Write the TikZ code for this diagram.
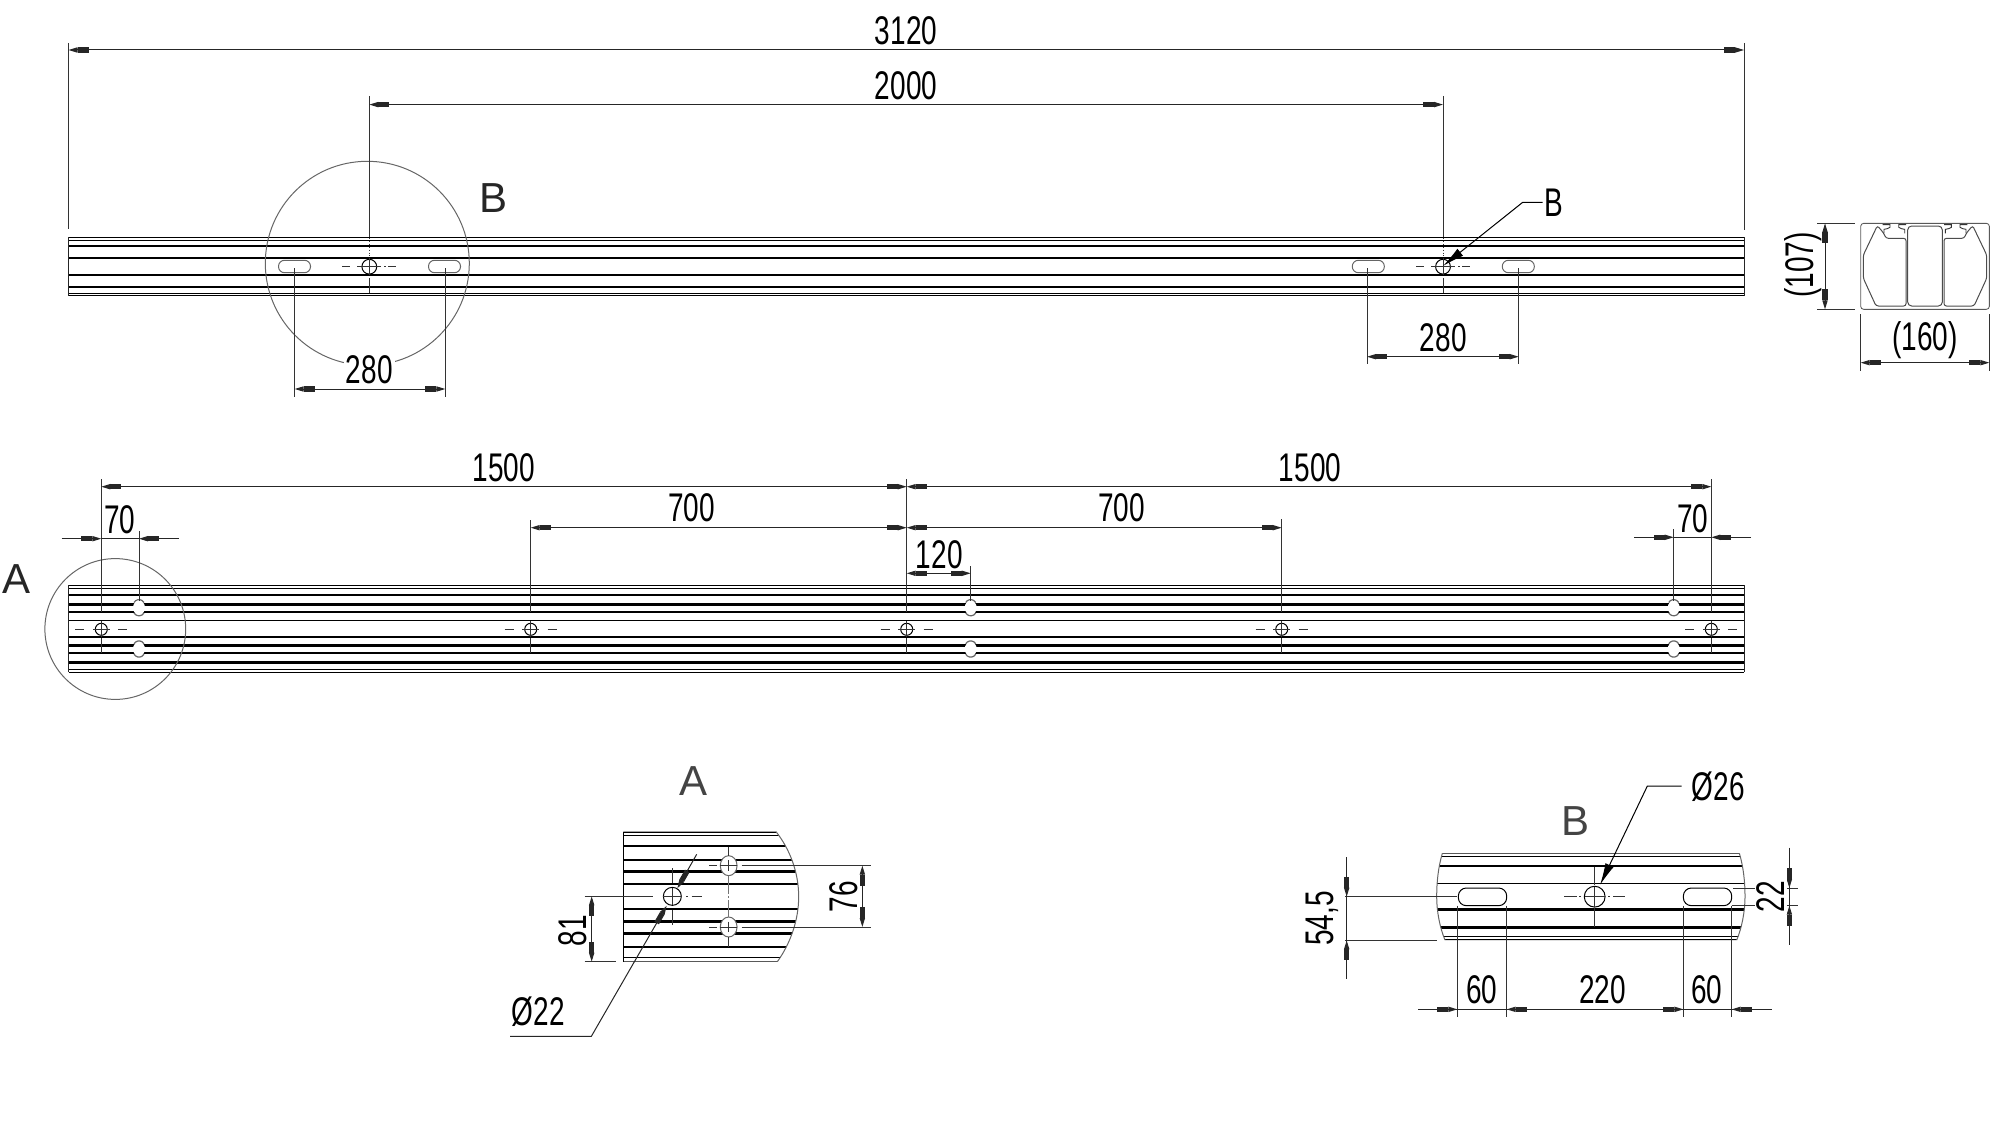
\documentclass[tikz,border=0pt]{standalone}
\usepackage{fontspec}
\setmainfont{Liberation Sans}
\newfontfamily\dimfont[FakeStretch=0.7]{Liberation Sans}
\usetikzlibrary{arrows.meta}
\definecolor{edgegray}{HTML}{666666}
\definecolor{titlegray}{HTML}{444444}
\tikzset{
  dimtext/.style={font=\fontsize{20}{21}\dimfont, inner sep=0pt, text=black},
  masked/.style={dimtext, fill=white, inner sep=1pt},
  bigtext/.style={font=\fontsize{21}{22}\selectfont, inner sep=0pt},
  titletext/.style={bigtext, text=titlegray},
  dimline/.style={line width=0.5pt, draw=black!85},
  extline/.style={line width=0.5pt, draw=black!80},
  ctrline/.style={line width=0.45pt, draw=black!80},
  tipstyle/.tip={Rectangle[length=5.5pt,width=2.6pt] Triangle[length=4.5pt,width=2.6pt]},
  tiparrow/.style={dimline, -{tipstyle}},
  tipboth/.style={dimline, {tipstyle}-{tipstyle}},
  bigarrow/.style={line width=0.5pt, -{Latex[length=11pt,width=4.5pt]}},
  holeshape/.style={draw=black, line width=0.5pt, fill=white},
  ovalshape/.style={draw=edgegray, line width=0.5pt, fill=white},
  slotshape/.style={draw=edgegray, line width=0.5pt, fill=white, rounded corners=3pt},
  lensring/.style={draw=edgegray, line width=0.5pt},
  outlinebar/.style={line width=0.5pt, draw=black!85},
}
\newcommand{\barA}{%
  \foreach \y/\w in {237.3/.45,240.7/.45,245.7/1,257.7/1,275/1.4,286.7/1.05,293.3/.45,295.7/.55}
    \draw[line width=\w pt] (68.5,\y) -- (1744,\y);
  \draw[outlinebar] (68.5,237.3) -- (68.5,295.7) (1744,237.3) -- (1744,295.7);}
\newcommand{\barB}{%
  \foreach \y/\w in {585.3/.5,588.7/.5,595/1.05,604.3/1.4,612/1.2,620.3/.8,637/.8,645.3/1.2,653/1.4,662.5/1.4,669.5/.5,672.3/.6}
    \draw[line width=\w pt] (68.5,\y) -- (1744,\y);
  \draw[outlinebar] (68.5,585.3) -- (68.5,672.3) (1744,585.3) -- (1744,672.3);}
\newcommand{\smallhole}[2]{%
  \draw[holeshape] (#1,#2) circle[radius=3pt];
  \draw[ctrline] ({#1-8.5},#2) -- ({#1+8.5},#2) (#1,{#2-8}) -- (#1,{#2+8});
  \draw[ctrline] ({#1-26},#2) -- ({#1-17},#2) ({#1+17},#2) -- ({#1+26},#2);}
\newcommand{\halfprof}{%
  \draw[line width=.5pt, draw=black!70, rounded corners=1.2pt]
    (292,47) -- (250,135) -- (250,205) -- (288,288) -- (378,288) -- (378,85) -- (318,85) -- (310,68) -- cycle;
  \draw[line width=.45pt, draw=black!80]
    (312,70) -- (312,58) -- (322,56) -- (330,52) -- (330,44) -- (308,44);
  \draw[line width=.45pt, draw=black!80]
    (374,70) -- (374,58) -- (364,56) -- (356,52) -- (356,44) -- (378,44);}
\begin{document}
\begin{tikzpicture}[x=0.5pt,y=-0.5pt]
\useasboundingbox (0,0) rectangle (2000,1139);

% ---------- top bar ----------
\barA
\draw[lensring] (367.3,263.3) circle[radius=51pt];
\foreach \a in {278.5,428.5,1352.3,1502.3}
  \draw[slotshape] (\a,260.3) rectangle ({\a+32},272.7);
\foreach \c in {369.3,1443}{
  \draw[holeshape] (\c,266.7) circle[radius=3.7pt];
  \draw[ctrline] ({\c-27},266.7) -- ({\c-19},266.7) ({\c-12},266.7) -- ({\c+12},266.7) ({\c+15},266.7) -- ({\c+17},266.7) ({\c+19},266.7) -- ({\c+27},266.7);
  \draw[ctrline] (\c,258) -- (\c,275) (\c,278) -- (\c,293);
  \draw[ctrline, densely dotted] (\c,238) -- (\c,256);
}
% dims, top bar
\draw[extline] (68.5,43) -- (68.5,229);
\draw[extline] (1744,43) -- (1744,230);
\draw[tipboth] (68.5,50) -- (1744,50);
\node[dimtext] (d3120) at (906,31) {3120};
\draw[extline] (369.3,96) -- (369.3,237);
\draw[extline] (1443,96) -- (1443,237);
\draw[tipboth] (369.3,104.6) -- (1443,104.6);
\node[dimtext] (d2000) at (906,85.5) {2000};
\node[titletext, text=black!85] (bigB) at (493,198) {B};
% 280 left
\draw[extline] (294.7,268) -- (294.7,397);
\draw[extline] (445.3,268) -- (445.3,397);
\draw[tipboth] (294.7,389) -- (445.3,389);
\node[masked] (d280a) at (369.3,370) {280};
% 280 right
\draw[extline] (1367,268) -- (1367,364);
\draw[extline] (1518.7,268) -- (1518.7,364);
\draw[tipboth] (1367,356.7) -- (1518.7,356.7);
\node[dimtext] (d280b) at (1443.3,338) {280};
% B leader
\node[dimtext] (lblB) at (1554,203) {B};
\coordinate (holeB) at (1443,266);
\draw[bigarrow] (1542.7,202.3) -- (1522.7,202.3) -- (holeB);

% ---------- profile ----------
\begin{scope}[shift={(1780,210)},x=0.16667pt,y=-0.16667pt]
  \draw[line width=.42pt, draw=black!65, rounded corners=1.5pt] (242,40) rectangle (628,298);
  \draw[line width=.5pt, draw=black!70, rounded corners=2pt] (383,48) rectangle (487,288);
  \halfprof
  \begin{scope}[shift={(870,0)},xscale=-1]
    \halfprof
  \end{scope}
  \draw[extline] (112,40) -- (226,40) (112,298) -- (226,298);
  \draw[tipboth] (135,40) -- (135,298);
  \node[dimtext, rotate=90] (d107) at (70,165) {(107)};
  \draw[extline] (242,312) -- (242,482) (628,312) -- (628,482);
  \draw[tipboth] (242,458) -- (628,458);
  \node[dimtext] (d160) at (435,390) {(160)};
\end{scope}

% ---------- second bar ----------
\barB
\draw[lensring] (115.3,629) circle[radius=35.2pt];
\foreach \o in {139,970.7,1673.7}{
  \fill[white] (\o,607.7) ellipse[x radius=3pt,y radius=3.5pt];
  \fill[white] (\o,649) ellipse[x radius=3pt,y radius=3.5pt];
  \draw[draw=edgegray, line width=.6pt] ({\o-5},602.5) arc[start angle=150,end angle=30,radius=2.9pt];
  \draw[draw=edgegray, line width=.6pt] ({\o-5},612.9) arc[start angle=210,end angle=330,radius=2.9pt];
  \draw[draw=edgegray, line width=.6pt] ({\o-5},643.8) arc[start angle=150,end angle=30,radius=2.9pt];
  \draw[draw=edgegray, line width=.6pt] ({\o-5},654.2) arc[start angle=210,end angle=330,radius=2.9pt];
}
\foreach \c in {101.3,530.7,906.7,1281.7,1711.3}{
  \smallhole{\c}{629.3}
  \draw[extline] (\c,638) -- (\c,653);
}
\node[bigtext, text=black!85] (lblAa) at (16.7,579) {A};
% dims second bar
\draw[extline] (101.3,479) -- (101.3,612);
\draw[extline] (906.7,479) -- (906.7,612);
\draw[extline] (1711.3,479) -- (1711.3,612);
\draw[tipboth] (101.3,486.7) -- (906.7,486.7);
\draw[tipboth] (906.7,486.7) -- (1711.3,486.7);
\node[dimtext] (d1500a) at (504,468) {1500};
\node[dimtext] (d1500b) at (1310,468) {1500};
\draw[extline] (530.7,520) -- (530.7,612);
\draw[extline] (1281.7,519) -- (1281.7,612);
\draw[tipboth] (530.7,527.7) -- (906.7,527.7);
\draw[tipboth] (906.7,527.7) -- (1281.7,527.7);
\node[dimtext] (d700a) at (691.7,508) {700};
\node[dimtext] (d700b) at (1121.7,508) {700};
\draw[extline] (970.7,566) -- (970.7,601);
\draw[tipboth] (906.7,573.3) -- (970.7,573.3);
\node[dimtext] (d120) at (939.3,555) {120};
% 70 left
\draw[extline] (139,531) -- (139,601);
\draw[tiparrow] (61.7,538.7) -- (101.3,538.7);
\draw[tiparrow] (179,538.7) -- (139,538.7);
\draw[dimline] (101.3,538.7) -- (139,538.7);
\node[dimtext] (d70a) at (120,520) {70};
% 70 right
\draw[extline] (1673.7,529) -- (1673.7,601);
\draw[tiparrow] (1634,537.3) -- (1673.7,537.3);
\draw[tiparrow] (1751,537.3) -- (1711.3,537.3);
\draw[dimline] (1673.7,537.3) -- (1711.3,537.3);
\node[dimtext] (d70b) at (1692.7,518.3) {70};

% ---------- detail A ----------
\begin{scope}[shift={(490,760)},x=0.16667pt,y=-0.16667pt]
  \begin{scope}
    \clip (400,215) -- (858,215) .. controls (900,268) and (926,338) .. (926,410) .. controls (926,482) and (900,552) .. (862,605) -- (400,605) -- cycle;
    \foreach \y/\w in {215/1.1,226/.45,258/1.15,300/1.4,334/1.4,371/1,447/.85,484/1.3,520/1.45,561/1.35,593/.45,605/1.1}
      \draw[line width=\w pt] (400,\y) -- (930,\y);
  \end{scope}
  \draw[line width=.5pt] (400,215) -- (400,605);
  \draw[line width=.5pt, draw=edgegray] (858,215) .. controls (900,268) and (926,338) .. (926,410) .. controls (926,482) and (900,552) .. (862,605);
  % oval holes
  \foreach \y in {317,501}{
    \draw[ovalshape] (716,\y) ellipse[x radius=4.2pt,y radius=5pt];
    \draw[ctrline] (658,\y) -- (680,\y) (690,\y) -- (740,\y) (716,{\y-16}) -- (716,{\y+16});
    \draw[extline] (755,\y) -- (1142,\y);
  }
  \draw[ctrline] (716,262) -- (716,288) (716,532) -- (716,560);
  \draw[ctrline, draw=black!55, dash pattern=on 9pt off 1pt on 1pt off 1pt] (716,348) -- (716,470);
  % round hole
  \draw[holeshape] (547,409) circle[radius=4.5pt];
  \draw[ctrline] (520,409) -- (575,409) (547,385) -- (547,436);
  \draw[ctrline] (605,409) -- (635,409) (588,409) -- (594,409) (547,325) -- (547,370) (547,450) -- (547,495);
  \draw[extline] (284,409) -- (490,409);
  \draw[extline] (284,605) -- (378,605);
  \draw[tipboth] (305,409) -- (305,605);
  \node[dimtext, rotate=90] (d81) at (247,512) {81};
  \draw[tipboth] (1117,317) -- (1117,501);
  \node[dimtext, rotate=90] (d76) at (1060,410) {76};
  \draw[tiparrow] (60,829) -- (304,829) -- (530,437);
  \draw[tiparrow] (620,283) -- (562,385);
  \node[dimtext] (d22) at (145,755) {Ø22};
  \node[titletext] (lblAb) at (610,62) {A};
\end{scope}

% ---------- detail B ----------
\begin{scope}[shift={(1290,760)},x=0.16667pt,y=-0.16667pt]
  \begin{scope}
    \clip (457,280) .. controls (445,320) and (440,365) .. (440,410) .. controls (440,455) and (450,505) .. (465,540) -- (1340,540) .. controls (1355,505) and (1365,455) .. (1365,410) .. controls (1365,365) and (1360,320) .. (1348,280) -- cycle;
    \foreach \y/\w in {280/.85,290/.45,317/1.1,370/.75,449/1.25,502/1.3,530/.45,540/1.1}
      \draw[line width=\w pt] (430,\y) -- (1370,\y);
  \end{scope}
  \draw[line width=.5pt, draw=edgegray] (457,280) .. controls (445,320) and (440,365) .. (440,410) .. controls (440,455) and (450,505) .. (465,540);
  \draw[line width=.5pt, draw=edgegray] (1348,280) .. controls (1360,320) and (1365,365) .. (1365,410) .. controls (1365,455) and (1355,505) .. (1340,540);
  \draw[line width=.5pt, fill=white, rounded corners=4pt] (505,384) rectangle (650,437);
  \draw[line width=.5pt, fill=white, rounded corners=4pt] (1180,384) rectangle (1325,437);
  \draw[holeshape] (914,410) circle[radius=5.2pt];
  \draw[ctrline] (885,410) -- (945,410) (914,380) -- (914,440);
  \draw[ctrline] (822,410) -- (860,410) (868,410) -- (874,410) (955,410) -- (961,410) (970,410) -- (1005,410);
  \draw[ctrline] (914,320) -- (914,375) (914,445) -- (914,500);
  % 54,5
  \draw[extline] (165,410) -- (500,410) (165,541) -- (442,541);
  \draw[dimline] (170,292) -- (170,658);
  \draw[tiparrow] (170,340) -- (170,410);
  \draw[tiparrow] (170,610) -- (170,541);
  \node[dimtext, rotate=90] (d545) at (97,475) {54,5};
  % 22
  \draw[extline] (1330,384) -- (1525,384) (1325,437) -- (1525,437);
  \draw[dimline] (1498,263) -- (1498,556);
  \draw[tiparrow] (1498,320) -- (1498,384);
  \draw[tiparrow] (1498,500) -- (1498,437);
  \node[masked, rotate=90] (d22b) at (1442,410) {22};
  % bottom chain
  \draw[extline] (502,437) -- (502,772) (650,437) -- (650,772) (1180,437) -- (1180,772) (1325,437) -- (1325,772);
  \draw[dimline] (385,748) -- (1445,748);
  \draw[tiparrow] (440,748) -- (502,748);
  \draw[tiparrow] (712,748) -- (650,748);
  \draw[tiparrow] (1118,748) -- (1180,748);
  \draw[tiparrow] (1387,748) -- (1325,748);
  \node[dimtext] (d60a) at (575,690) {60};
  \node[dimtext] (d220) at (937,690) {220};
  \node[dimtext] (d60b) at (1250,690) {60};
  % leader
  \node[dimtext] (d26) at (1285,80) {Ø26};
  \draw[bigarrow] (1175,78) -- (1072,78) -- (930,375);
  \node[titletext] (lblBb) at (857,183) {B};
\end{scope}
\end{tikzpicture}
\end{document}
